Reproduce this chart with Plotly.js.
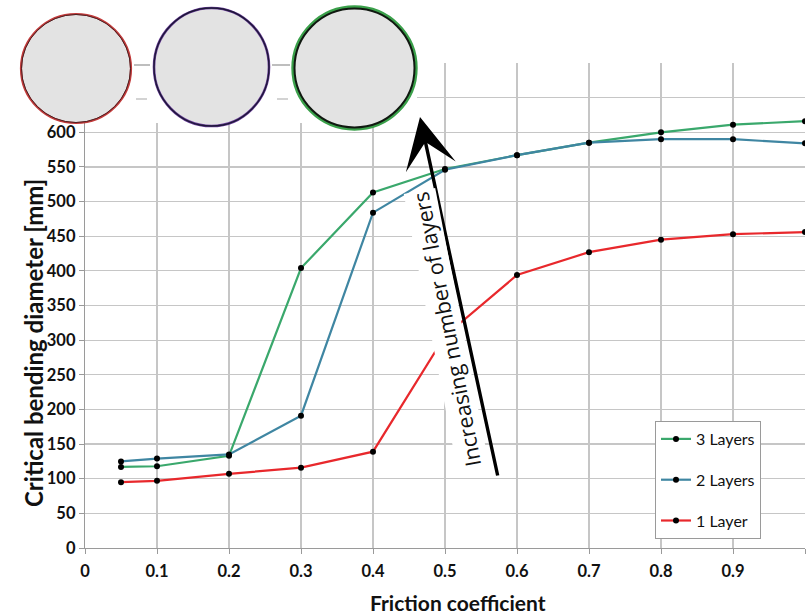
<!DOCTYPE html>
<html>
<head>
<meta charset="utf-8">
<script src="https://cdn.plot.ly/plotly-3.0.1.min.js"></script>
<style>html,body{margin:0;padding:0;background:#fff;}#chart{width:806px;height:616px;}</style>
</head>
<body>
<div id="chart"></div>
<script>
// Data
var friction = [0.05, 0.1, 0.2, 0.3, 0.4, 0.5, 0.6, 0.7, 0.8, 0.9, 1.0];
var layers3 = [117, 118, 133, 404, 513, 547, 567, 585, 600, 611, 616];
var layers2 = [125, 129, 135, 191, 484, 546, 567, 585, 590, 590, 584];
var layers1 = [95, 97, 107, 116, 139, 306, 394, 427, 445, 453, 456];
var seriesNames = ['3 Layers', '2 Layers', '1 Layer'];
var xTicks = [0, 0.1, 0.2, 0.3, 0.4, 0.5, 0.6, 0.7, 0.8, 0.9, 1];
var xTickText = ['0', '0.1', '0.2', '0.3', '0.4', '0.5', '0.6', '0.7', '0.8', '0.9', '1'];
var yTicks = [0, 50, 100, 150, 200, 250, 300, 350, 400, 450, 500, 550, 600, 650, 700];

var FONT = 'Lato, Carlito, "Open Sans", sans-serif';
var colors = ['#3aa86c', '#3f86a2', '#e8282c'];
var ys = [layers3, layers2, layers1];

var traces = ys.map(function (y, i) {
  return {
    x: friction, y: y, name: seriesNames[i], legendgroup: 'g' + i,
    type: 'scatter', mode: 'lines+markers',
    line: {color: colors[i], width: 2.2},
    marker: {color: '#000', size: 6}
  };
});

// pixel -> paper helpers (plot area 85..805 x, 63..548 y)
function px(v) { return (v - 85) / 720; }
function py(v) { return 1 - (v - 63) / 485; }

var shapes = [
  // white cover behind the circle picture
  {type: 'rect', xref: 'paper', yref: 'paper', x0: px(0), x1: px(417), y0: py(123), y1: py(0),
   fillcolor: '#fff', line: {width: 0}, layer: 'above'},
  // gridline pieces visible between circles
  {type: 'line', xref: 'paper', yref: 'paper', x0: px(134), x1: px(150), y0: py(65), y1: py(65), line: {color: '#a8a8a8', width: 1.5}, layer: 'above'},
  {type: 'line', xref: 'paper', yref: 'paper', x0: px(272), x1: px(290), y0: py(65), y1: py(65), line: {color: '#a8a8a8', width: 1.5}, layer: 'above'},
  {type: 'line', xref: 'paper', yref: 'paper', x0: px(136), x1: px(147), y0: py(99), y1: py(99), line: {color: '#c4c4c4', width: 1.5}, layer: 'above'},
  {type: 'line', xref: 'paper', yref: 'paper', x0: px(277), x1: px(288), y0: py(99), y1: py(99), line: {color: '#c4c4c4', width: 1.5}, layer: 'above'},
  // circles
  {type: 'circle', xref: 'paper', yref: 'paper', x0: px(21), x1: px(131), y0: py(123), y1: py(14),
   fillcolor: '#e3e3e3', line: {color: '#c23a3a', width: 2.2}, layer: 'above'},
  {type: 'circle', xref: 'paper', yref: 'paper', x0: px(21.5), x1: px(130.5), y0: py(122.5), y1: py(14.5),
   fillcolor: 'rgba(0,0,0,0)', line: {color: '#4a2022', width: 1}, layer: 'above'},
  {type: 'circle', xref: 'paper', yref: 'paper', x0: px(154), x1: px(269), y0: py(126), y1: py(8),
   fillcolor: '#e3e3e3', line: {color: '#6a3c9a', width: 2.6}, layer: 'above'},
  {type: 'circle', xref: 'paper', yref: 'paper', x0: px(154), x1: px(269), y0: py(126), y1: py(8),
   fillcolor: 'rgba(0,0,0,0)', line: {color: '#1e1838', width: 1.4}, layer: 'above'},
  {type: 'circle', xref: 'paper', yref: 'paper', x0: px(293), x1: px(416), y0: py(129), y1: py(7),
   fillcolor: '#e3e3e3', line: {color: '#3aa04a', width: 3.4}, layer: 'above'},
  {type: 'circle', xref: 'paper', yref: 'paper', x0: px(294.5), x1: px(414.5), y0: py(127.5), y1: py(8.5),
   fillcolor: 'rgba(0,0,0,0)', line: {color: '#101810', width: 2}, layer: 'above'}
];

var annotations = [
  {xref: 'paper', yref: 'paper', x: px(420), y: py(117), ax: 78, ay: 360, text: '',
   showarrow: true, arrowhead: 3, arrowsize: 2.5, arrowwidth: 3.4, arrowcolor: '#000'},
  {xref: 'paper', yref: 'paper', x: px(446), y: py(330), xanchor: 'center', yanchor: 'middle',
   text: 'Increasing number of layers',
   showarrow: false, textangle: -101, bgcolor: '#fff', borderpad: 1,
   font: {family: '"Open Sans", sans-serif', size: 21.5, color: '#111'}},
  {xref: 'paper', yref: 'paper', x: px(33), y: py(343), xanchor: 'center', yanchor: 'middle',
   text: 'Critical bending diameter [mm]',
   showarrow: false, textangle: -90,
   font: {family: FONT, size: 24, color: '#111', weight: 'bold'}},
  {xref: 'paper', yref: 'paper', x: px(458), y: py(602), xanchor: 'center', yanchor: 'middle',
   text: 'Friction coefficient',
   showarrow: false,
   font: {family: FONT, size: 21, color: '#111', weight: 'bold'}}
];

var layout = {
  width: 806, height: 616,
  margin: {l: 85, r: 1, t: 63, b: 68},
  paper_bgcolor: '#fff', plot_bgcolor: '#fff',
  font: {family: FONT, color: '#111'},
  showlegend: true,
  legend: {
    x: px(655), y: py(421), xanchor: 'left', yanchor: 'top',
    bgcolor: '#fff', bordercolor: '#9a9a9a', borderwidth: 1,
    traceorder: 'grouped', tracegroupgap: 17,
    font: {family: FONT, size: 16, color: '#111'}
  },
  xaxis: {
    range: [0, 1], tickvals: xTicks, ticktext: xTickText,
    showgrid: true, gridcolor: '#c6c6c6', gridwidth: 1.2,
    zeroline: false, showline: true, linecolor: '#9a9a9a', linewidth: 1.2,
    ticks: 'outside', ticklen: 5, tickcolor: '#9a9a9a', ticklabelstandoff: 3,
    tickfont: {family: FONT, size: 16.5, color: '#111', weight: 'bold'}
  },
  yaxis: {
    range: [0, 700], tickvals: yTicks,
    showgrid: true, gridcolor: '#c6c6c6', gridwidth: 1.2,
    zeroline: false, showline: true, linecolor: '#9a9a9a', linewidth: 1.2,
    ticks: 'outside', ticklen: 5, tickcolor: '#9a9a9a',
    tickfont: {family: FONT, size: 16.5, color: '#111', weight: 'bold'}
  },
  shapes: shapes,
  annotations: annotations
};

Plotly.newPlot('chart', traces, layout, {displayModeBar: false, staticPlot: true});
</script>
</body>
</html>
